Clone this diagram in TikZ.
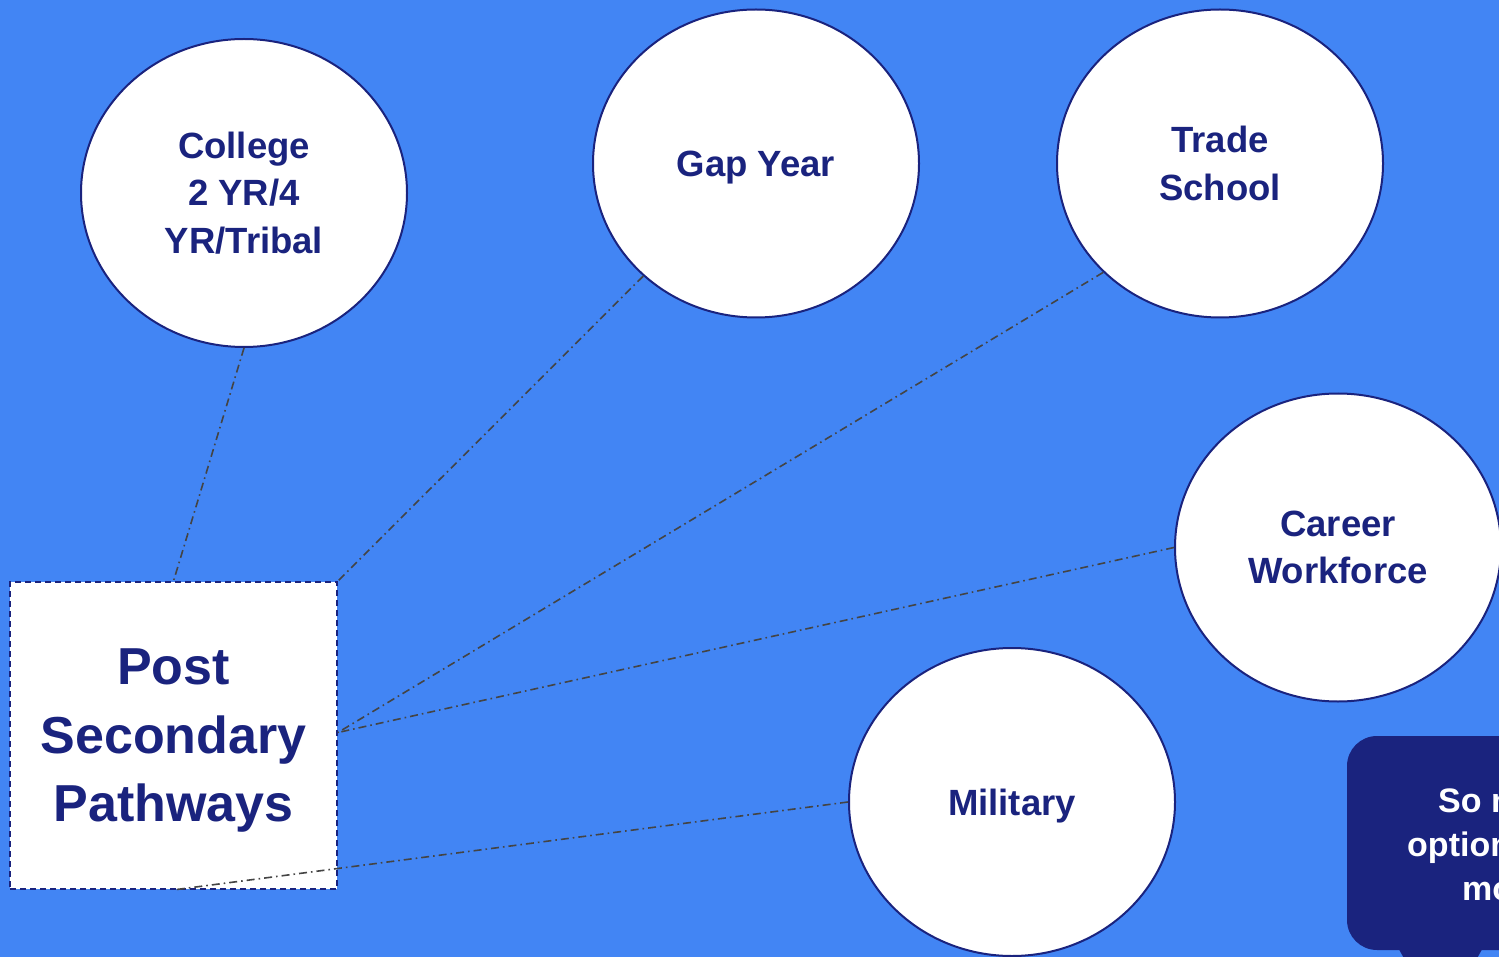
\documentclass[tikz,border=0pt]{standalone}
\usepackage{fontspec}
\setmainfont{Liberation Sans}
\usetikzlibrary{shapes.geometric}
\definecolor{bgblue}{HTML}{4285F4}
\definecolor{navy}{HTML}{1A237E}
\definecolor{linegray}{HTML}{444444}
\begin{document}
\begin{tikzpicture}[x=1pt,y=-1pt,
  pathway/.style={ellipse, draw=navy, line width=2pt, fill=white,
    minimum width=326pt, minimum height=308pt, inner sep=0pt, align=center,
    text=navy, font=\bfseries\fontsize{36.5}{47.5}\selectfont},
  hub/.style={rectangle, draw=navy, dash pattern=on 6pt off 4pt, line width=1.8pt,
    fill=white, minimum width=327pt, minimum height=307pt, inner sep=0pt,
    align=center, text=navy, text depth=0pt, font=\bfseries\fontsize{52}{68.5}\selectfont},
  link/.style={draw=linegray, line width=1.6pt,
    dash pattern=on 8pt off 4pt on 1.6pt off 4pt},
  bubbletext/.style={anchor=base west, text=white, inner sep=0pt,
    font=\bfseries\fontsize{34}{44}\selectfont}]
\useasboundingbox (0,0) rectangle (1499,957);
\clip (0,0) rectangle (1499,957);
\fill[bgblue] (0,0) rectangle (1499,957);

\node[hub] (hub) at (173.5,735.5) {Post\\Secondary\\Pathways};

\node[pathway] (college) at (244,193) {College\\2 YR/4\\YR/Tribal};
\node[pathway, text depth=0pt] (gap) at (756,163.5) {Gap Year};
\node[pathway] (trade) at (1220,163.5) {Trade\\School};
\node[pathway] (career) at (1338,547.5) {Career\\Workforce};
\node[pathway, text depth=0pt] (military) at (1012,802) {Military};

\draw[link] (college.south) -- (hub.north);
\draw[link] (gap) -- (hub.north east);
\draw[link] (trade.223) -- ([yshift=3pt]hub.east);
\draw[link] (career.west) -- ([yshift=3pt]hub.east);
\draw[link] (military.west) -- (hub.south);

\fill[navy, rounded corners=30pt] (1347,736) rectangle (1620,950);
\fill[navy] (1396,944) -- (1485,944) -- (1475,962) -- (1406,962) -- cycle;
\node[bubbletext] (b1) at (1438,812) {So many};
\node[bubbletext] (b2) at (1407,856) {options};
\node[bubbletext] (b3) at (1462,900) {more};
\end{tikzpicture}
\end{document}
